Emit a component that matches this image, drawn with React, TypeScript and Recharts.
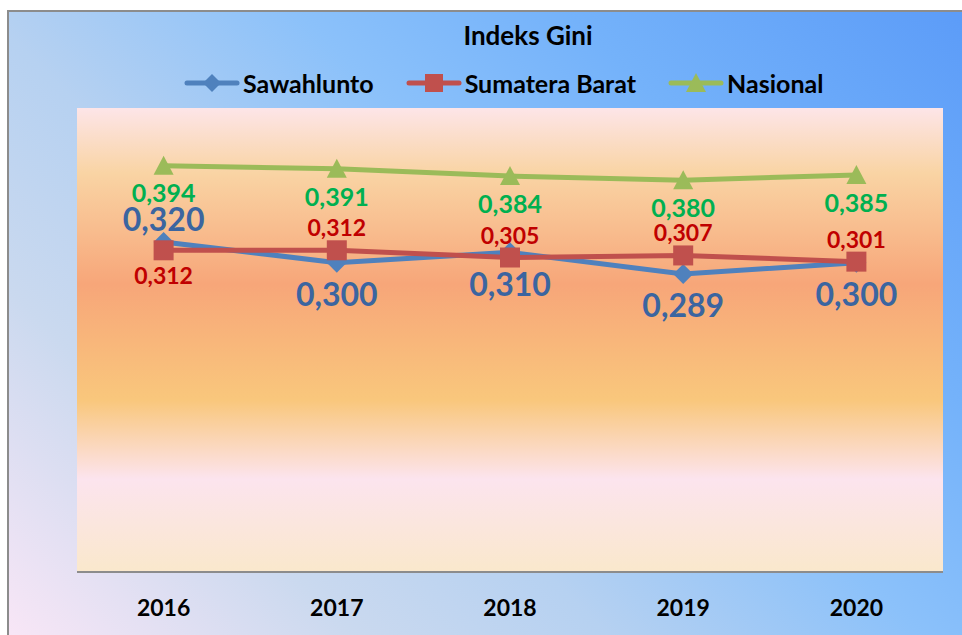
import { LabelList, Line, LineChart, CartesianGrid, XAxis, YAxis } from "recharts";

const tahun = ["2016", "2017", "2018", "2019", "2020"];
const sawahlunto = [0.32, 0.3, 0.31, 0.289, 0.3];
const sumateraBarat = [0.312, 0.312, 0.305, 0.307, 0.301];
const nasional = [0.394, 0.391, 0.384, 0.38, 0.385];

const FONT = "Lato, 'Open Sans', sans-serif";
const BIRU = "#4f81bd";
const MERAH = "#c0504d";
const HIJAU = "#9bbb59";

const data = tahun.map((t, i) => ({
  tahun: t,
  sawahlunto: sawahlunto[i],
  sumateraBarat: sumateraBarat[i],
  nasional: nasional[i],
}));

function formatKoma(v: number): string {
  return v.toFixed(3).replace(".", ",");
}

function Diamond({ cx, cy, r = 10, fill }: { cx: number; cy: number; r?: number; fill: string }) {
  return <path d={`M${cx},${cy - r}L${cx + r},${cy}L${cx},${cy + r}L${cx - r},${cy}Z`} fill={fill} />;
}

function Kotak({ cx, cy, s = 10, fill }: { cx: number; cy: number; s?: number; fill: string }) {
  return <rect x={cx - s} y={cy - s} width={s * 2} height={s * 2} fill={fill} />;
}

function Segitiga({ cx, cy, s = 10, fill }: { cx: number; cy: number; s?: number; fill: string }) {
  return <path d={`M${cx},${cy - s}L${cx + s},${cy + s - 1}L${cx - s},${cy + s - 1}Z`} fill={fill} />;
}

// label data: offset vertikal per seri, titik pertama bisa dibalik
function buatLabel(warna: string, ukuran: number, geser: number, geserPertama: number) {
  return (props: any) => {
    const { x, y, value, index } = props;
    const off = index === 0 ? geserPertama : geser;
    return (
      <text
        x={x}
        y={y + off + ukuran * 0.35}
        textAnchor="middle"
        fill={warna}
        fontSize={ukuran}
        fontWeight={700}
        fontFamily={FONT}
      >
        {formatKoma(value)}
      </text>
    );
  };
}

function IkonLegenda({ jenis, warna }: { jenis: string; warna: string }) {
  return (
    <svg width={56} height={24} style={{ display: "block" }}>
      <line x1={3} y1={12} x2={53} y2={12} stroke={warna} strokeWidth={5} strokeLinecap="round" />
      {jenis === "diamond" && <Diamond cx={28} cy={12} r={9} fill={warna} />}
      {jenis === "square" && <Kotak cx={28} cy={12} s={9} fill={warna} />}
      {jenis === "triangle" && <Segitiga cx={28} cy={12} s={10} fill={warna} />}
    </svg>
  );
}

function Legenda() {
  const items = [
    { nama: "Sawahlunto", jenis: "diamond", warna: BIRU },
    { nama: "Sumatera Barat", jenis: "square", warna: MERAH },
    { nama: "Nasional", jenis: "triangle", warna: HIJAU },
  ];
  return (
    <div style={{ position: "absolute", top: 57, left: 175, display: "flex", alignItems: "center", gap: 32 }}>
      {items.map((it) => (
        <div key={it.nama} style={{ display: "flex", alignItems: "center", gap: 3 }}>
          <IkonLegenda jenis={it.jenis} warna={it.warna} />
          <span style={{ fontFamily: FONT, fontWeight: 700, fontSize: 25, color: "#000", lineHeight: "28px" }}>
            {it.nama}
          </span>
        </div>
      ))}
    </div>
  );
}

export default function App() {
  return (
    <div
      style={{
        position: "fixed",
        left: 7,
        top: 10,
        width: 955,
        height: 625,
        boxSizing: "border-box",
        borderLeft: "2px solid #8c8c8c",
        borderTop: "2px solid #8c8c8c",
        background: "linear-gradient(45deg, #f8e6f6 0%, #cad9ef 22%, #b6d1f1 38%, #8bc1fa 58%, #74b2fa 75%, #5c9cf8 100%)",
        overflow: "hidden",
      }}
    >
      <div
        style={{
          position: "absolute",
          left: 419,
          top: 8,
          width: 200,
          textAlign: "center",
          fontFamily: FONT,
          fontWeight: 700,
          fontSize: 26,
          color: "#000",
          lineHeight: "30px",
        }}
      >
        Indeks Gini
      </div>
      <Legenda />
      <LineChart width={953} height={623} data={data} margin={{ top: 96, right: 19, bottom: 23, left: 68 }}>
        <defs>
          <linearGradient id="latarPlot" x1="0" y1="0" x2="0" y2="1">
            <stop offset="0" stopColor="#fde5e8" />
            <stop offset="0.14" stopColor="#f9d4a4" />
            <stop offset="0.38" stopColor="#f7a679" />
            <stop offset="0.63" stopColor="#f9c77c" />
            <stop offset="0.8" stopColor="#fce4ee" />
            <stop offset="1" stopColor="#fae8cc" />
          </linearGradient>
        </defs>
        <CartesianGrid fill="url(#latarPlot)" stroke="none" horizontal={false} vertical={false} />
        <XAxis
          dataKey="tahun"
          height={40}
          padding={{ left: 86.6, right: 86.6 }}
          axisLine={{ stroke: "#8c8c8c", strokeWidth: 2 }}
          tickLine={false}
          tickMargin={22}
          tick={{ fill: "#000", fontSize: 23, fontWeight: 700, fontFamily: FONT }}
        />
        <YAxis hide domain={[0, 0.45]} width={0} />
        <Line
          dataKey="sawahlunto"
          stroke={BIRU}
          strokeWidth={5}
          isAnimationActive={false}
          activeDot={false}
          dot={(p: any) => <Diamond key={`b-${p.index}`} cx={p.cx} cy={p.cy} r={10} fill={BIRU} />}
        >
          <LabelList dataKey="sawahlunto" content={buatLabel("#3b65a0", 32, 32, -22)} />
        </Line>
        <Line
          dataKey="sumateraBarat"
          stroke={MERAH}
          strokeWidth={5}
          isAnimationActive={false}
          activeDot={false}
          dot={(p: any) => <Kotak key={`m-${p.index}`} cx={p.cx} cy={p.cy} s={10} fill={MERAH} />}
        >
          <LabelList dataKey="sumateraBarat" content={buatLabel("#c00000", 23, -22, 26)} />
        </Line>
        <Line
          dataKey="nasional"
          stroke={HIJAU}
          strokeWidth={5}
          isAnimationActive={false}
          activeDot={false}
          dot={(p: any) => <Segitiga key={`h-${p.index}`} cx={p.cx} cy={p.cy} s={10} fill={HIJAU} />}
        >
          <LabelList dataKey="nasional" content={buatLabel("#00b050", 25, 28, 28)} />
        </Line>
      </LineChart>
    </div>
  );
}
